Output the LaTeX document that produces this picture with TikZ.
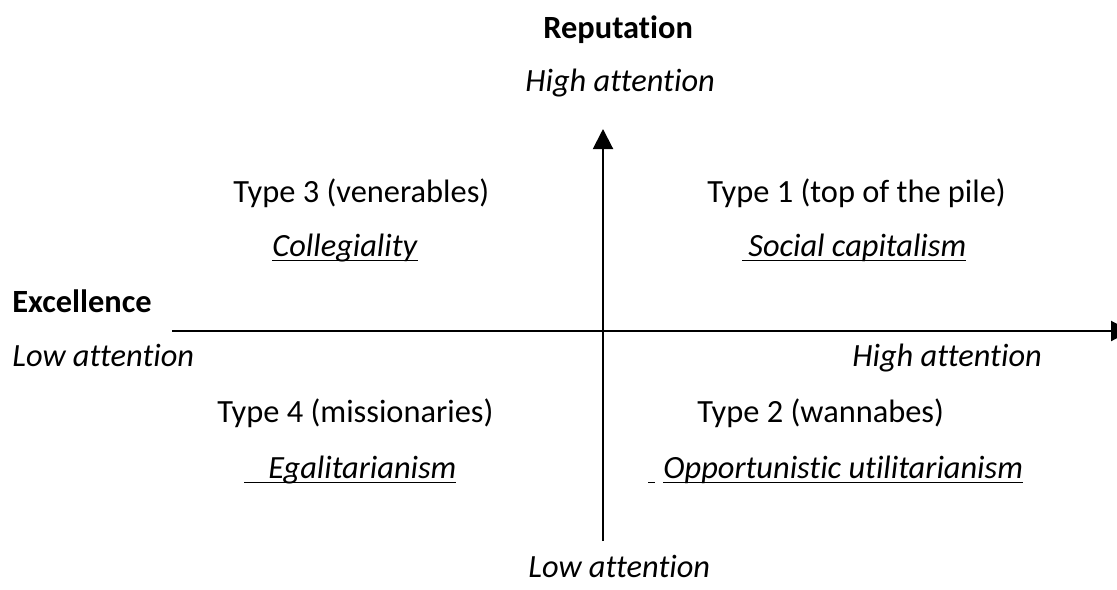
\documentclass[tikz,border=0pt]{standalone}
\usepackage{fontspec}
\setmainfont[Ligatures=CommonOff]{Carlito}
\usepackage{tikz}
\usetikzlibrary{arrows.meta}

% underline set like a word processor does it, through the descenders
\newcommand{\ultext}[1]{\setbox0\hbox{#1}\rlap{\rule[-2.6pt]{\wd0}{0.75pt}}\box0}

\begin{document}
\begin{tikzpicture} [x=0.5pt, y=-0.5pt, >={Triangle[width=10pt,length=10pt]},
    every node/.style={inner sep=0pt, anchor=base west,
      font=\fontsize{16.2pt}{19pt}\selectfont},
    axistitle/.style={font=\fontsize{16.2pt}{19pt}\selectfont\bfseries},
    level/.style={font=\fontsize{16.2pt}{19pt}\selectfont\itshape},
    axis/.style={->, line width=1pt}
    ]
    \useasboundingbox (0,0) rectangle (1117,589);

    % axes
    \coordinate (ybot) at (603,541);
    \coordinate (ytop) at (603,129);
    \coordinate (xleft) at (172,331);
    \coordinate (xright) at (1131,331);
    \draw [axis] (ybot) -- (ytop);
    \draw [axis] (xleft) -- (xright);

    % vertical axis labels
    \node (rep) [axistitle] at (543,39) {Reputation};
    \node (rephigh) [level] at (525,91) {High attention};
    \node (replow) [level] at (528,577) {Low attention};

    % horizontal axis labels
    \node (exc) [axistitle] at (12,312) {Excellence};
    \node (exclow) [level] at (12,366) {Low attention};
    \node (exchigh) [level] at (852,366) {High attention};

    % quadrants
    \node (t3) at (233,202) {Type 3 (venerables)};
    \node (t3s) at (272,256) {\ultext{\textit{Collegiality}}};
    \node (t1) at (707,202) {Type 1 (top of the pile)};
    \node (t1s) at (742,256) {\ultext{\hspace{3pt}\textit{Social capitalism}}};
    \node (t4) at (217,422) {Type 4 (missionaries)};
    \node (t4s) at (244,478) {\ultext{\hspace{12pt}\textit{Egalitarianism}}};
    \node (t2) at (697,422) {Type 2 (wannabes)};
    \node (t2s) at (648,478)
      {\ultext{\hspace{3.5pt}}\hspace{4pt}\ultext{\textit{Opportunistic utilitarianism}}};
\end{tikzpicture}
\end{document}
